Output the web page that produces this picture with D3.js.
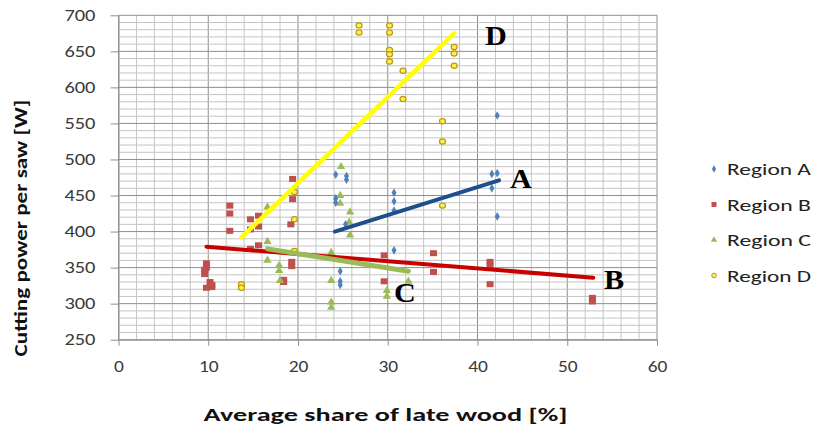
<!DOCTYPE html>
<html>
<head>
<meta charset="utf-8">
<script src="https://cdn.jsdelivr.net/npm/d3@7"></script>
<style>
  body { margin: 0; background: #fff; }
  svg { display: block; }
</style>
</head>
<body>
<svg id="chart" width="814" height="428"></svg>
<script>
// points: [late wood %, cutting power W]
const regionA = [
  [24.2, 479], [25.4, 477], [25.4, 472], [30.7, 454], [41.6, 480], [42.2, 481],
  [41.6, 460], [42.2, 561], [30.7, 442], [30.7, 429], [30.7, 374], [42.2, 421],
  [24.2, 446], [24.2, 440], [25.3, 410], [24.7, 345], [24.7, 331], [24.7, 326]
];
const regionB = [
  [12.4, 436], [12.4, 425], [12.4, 401], [14.7, 417], [15.6, 422], [15.6, 407],
  [14.7, 403], [14.7, 376], [15.6, 381], [19.4, 473], [19.4, 445], [19.2, 410],
  [19.3, 358], [19.3, 352], [18.4, 333], [18.4, 330], [9.8, 356], [9.8, 350],
  [9.6, 347], [9.6, 341], [10.2, 330], [10.4, 323], [9.8, 322], [10.4, 326],
  [29.6, 367], [29.6, 331], [35.1, 370], [35.1, 344], [41.4, 358], [41.4, 353],
  [41.4, 327], [52.8, 308], [52.8, 303]
];
const regionC = [
  [16.6, 434], [16.6, 386], [16.6, 360], [17.9, 353], [17.9, 346], [18.0, 332],
  [23.7, 371], [23.7, 332], [23.7, 302], [23.7, 295], [24.7, 450], [24.7, 439],
  [25.8, 427], [25.7, 413], [25.8, 395], [24.8, 490], [29.9, 318], [29.9, 310],
  [32.3, 331]
];
const regionD = [
  [26.8, 686], [26.8, 676], [30.2, 686], [30.2, 676], [30.2, 652], [30.2, 646],
  [30.2, 636], [31.7, 623], [31.7, 584], [37.4, 656], [37.4, 647], [37.4, 630],
  [36.1, 553], [36.1, 525], [36.1, 436], [19.6, 455], [19.6, 417], [19.6, 373],
  [13.7, 327], [13.7, 322]
];

// trend lines (start, end)
const trendA = [[24.1, 400], [42.4, 471]];
const trendB = [[9.8, 379], [52.9, 336]];
const trendC = [[16.6, 376], [32.3, 345]];
const trendD = [[13.7, 392], [37.4, 675]];

const xTicks = [0, 10, 20, 30, 40, 50, 60];
const yTicks = [250, 300, 350, 400, 450, 500, 550, 600, 650, 700];
const legendNames = ["Region A", "Region B", "Region C", "Region D"];

const svg = d3.select("#chart");
const font = "Carlito, Lato, 'Open Sans', sans-serif";
const wide = 1.32; // the original picture is stretched sideways

// squeeze/stretch a text along its reading direction to a given length
const fitText = (sel, pos, len) => {
  const w = sel.node().getComputedTextLength();
  sel.attr("transform", `${pos} scale(${len / w},1)`);
};

const x = d3.scaleLinear().domain([0, 60]).range([118.5, 657]);
const y = d3.scaleLinear().domain([250, 700]).range([339.7, 15.3]);

// grid
const grid = svg.append("g");
grid.selectAll(".v")
  .data(d3.range(0, 61, 2))
  .join("line")
  .attr("x1", d => x(d)).attr("x2", d => x(d))
  .attr("y1", y(700)).attr("y2", y(250))
  .attr("stroke", d => d % 10 === 0 ? "#8e8e8e" : "#c4c4c4")
  .attr("stroke-width", 1);
grid.selectAll(".h")
  .data(d3.range(250, 701, 10))
  .join("line")
  .attr("x1", x(0)).attr("x2", x(60))
  .attr("y1", d => y(d)).attr("y2", d => y(d))
  .attr("stroke", d => d % 50 === 0 ? "#8e8e8e" : "#c4c4c4")
  .attr("stroke-width", 1);

// axes
const xAxis = svg.append("g")
  .attr("transform", `translate(0,${y(250)})`)
  .call(d3.axisBottom(x).tickValues(xTicks).tickSize(6).tickPadding(15).tickSizeOuter(0));
const yAxis = svg.append("g")
  .attr("transform", `translate(${x(0)},0)`)
  .call(d3.axisLeft(y).tickValues(yTicks).tickSize(8).tickPadding(15).tickSizeOuter(0));

[xAxis, yAxis].forEach(g => {
  g.select(".domain").attr("stroke", "#8e8e8e");
  g.selectAll(".tick line").attr("stroke", "#8e8e8e");
  g.selectAll(".tick text")
    .attr("font-family", font)
    .attr("font-size", 15.5)
    .attr("fill", "#3a3a3a");
});
yAxis.selectAll(".tick text")
  .attr("x", 0)
  .attr("transform", `translate(-23,0) scale(${wide},1)`);
xAxis.selectAll(".tick text")
  .attr("transform", `scale(${wide * 0.95},1)`);

// trend lines
const line = d3.line().x(d => x(d[0])).y(d => y(d[1]));
const trends = [
  { data: trendD, color: "#ffff00", w: 4.5 },
  { data: trendA, color: "#1f4e8c", w: 4 },
  { data: trendB, color: "#c80000", w: 4 },
  { data: trendC, color: "#9bbb59", w: 5 }
];

// markers
const drawA = (g, pts) => g.selectAll(null).data(pts).join("path")
  .attr("transform", d => `translate(${x(d[0])},${y(d[1])})`)
  .attr("d", d3.symbol().type(d3.symbolDiamond).size(22))
  .attr("fill", "#4f81bd");
const drawB = (g, pts) => g.selectAll(null).data(pts).join("rect")
  .attr("x", d => x(d[0]) - 3.5).attr("y", d => y(d[1]) - 3)
  .attr("width", 7).attr("height", 6)
  .attr("fill", "#c0504d");
const drawC = (g, pts) => g.selectAll(null).data(pts).join("path")
  .attr("transform", d => `translate(${x(d[0])},${y(d[1])})`)
  .attr("d", d3.symbol().type(d3.symbolTriangle).size(30))
  .attr("fill", "#9bbb59");
const drawD = (g, pts) => g.selectAll(null).data(pts).join("ellipse")
  .attr("cx", d => x(d[0])).attr("cy", d => y(d[1]))
  .attr("rx", 3).attr("ry", 2.6)
  .attr("fill", "#fff04a").attr("stroke", "#b89a16").attr("stroke-width", 1.2);

const marks = svg.append("g");
drawB(marks.append("g"), regionB);
drawC(marks.append("g"), regionC);
drawA(marks.append("g"), regionA);

svg.append("g").selectAll("path")
  .data(trends)
  .join("path")
  .attr("d", d => line(d.data))
  .attr("fill", "none")
  .attr("stroke", d => d.color)
  .attr("stroke-width", d => d.w)
  .attr("stroke-linecap", "round");

drawD(marks.append("g"), regionD);

// letter labels
const letters = [
  { t: "D", px: 485, py: 45 },
  { t: "A", px: 510, py: 188 },
  { t: "B", px: 604, py: 289 },
  { t: "C", px: 394, py: 302 }
];
svg.append("g").selectAll("text")
  .data(letters)
  .join("text")
  .attr("transform", d => `translate(${d.px},${d.py}) scale(1.12,1)`)
  .attr("font-family", "'Liberation Serif', 'Times New Roman', serif")
  .attr("font-weight", "bold")
  .attr("font-size", 27)
  .text(d => d.t);

// axis titles
const xTitle = svg.append("text")
  .attr("text-anchor", "middle")
  .attr("font-family", font)
  .attr("font-weight", "bold")
  .attr("font-size", 18)
  .attr("fill", "#111")
  .text("Average share of late wood [%]");
fitText(xTitle, "translate(385.5,421)", 364);

const yTitle = svg.append("text")
  .attr("text-anchor", "middle")
  .attr("font-family", font)
  .attr("font-weight", "bold")
  .attr("font-size", 18)
  .attr("fill", "#111")
  .text("Cutting power per saw [W]");
fitText(yTitle, "translate(27,228) rotate(-90)", 257);

// legend
const legend = svg.append("g").attr("transform", "translate(714,169)");
const lg = legend.selectAll("g")
  .data(legendNames)
  .join("g")
  .attr("transform", (d, i) => `translate(0,${i * 35.5})`);
lg.each(function (d, i) {
  const g = d3.select(this);
  if (i === 0) g.append("path").attr("d", d3.symbol().type(d3.symbolDiamond).size(16)).attr("fill", "#4f81bd");
  if (i === 1) g.append("rect").attr("x", -2.5).attr("y", -2.5).attr("width", 5).attr("height", 5).attr("fill", "#c0504d");
  if (i === 2) g.append("path").attr("d", d3.symbol().type(d3.symbolTriangle).size(18)).attr("fill", "#9bbb59");
  if (i === 3) g.append("circle").attr("r", 2.3).attr("fill", "#fff04a").attr("stroke", "#b89a16").attr("stroke-width", 1);
});
lg.append("text")
  .attr("font-family", font)
  .attr("font-size", 16)
  .attr("fill", "#222")
  .text(d => d)
  .each(function () { fitText(d3.select(this), "translate(13,6)", 84); });
</script>
</body>
</html>
